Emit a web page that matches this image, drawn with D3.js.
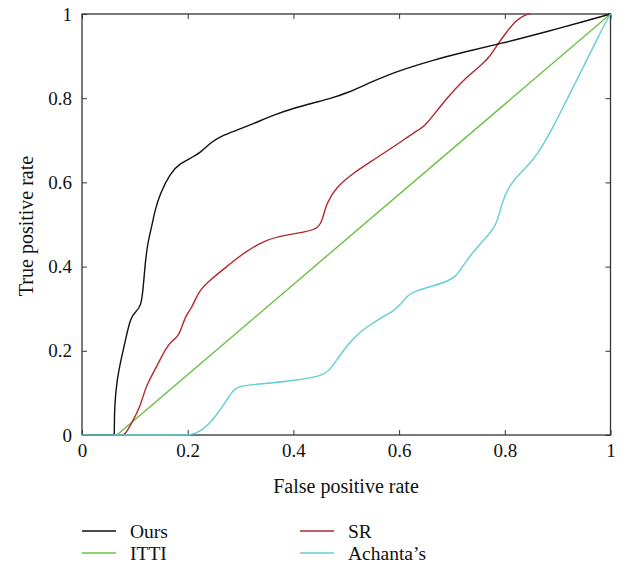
<!DOCTYPE html>
<html>
<head>
<meta charset="utf-8">
<script src="https://cdn.jsdelivr.net/npm/d3@7"></script>
<style>
  body { margin: 0; background: #fff; }
  text { font-family: "Liberation Serif", "DejaVu Serif", serif; fill: #111; }
</style>
</head>
<body>
<div class="chart"></div>
<script>
// ROC curves, [false positive rate, true positive rate]
var ours = [[0,0],[0.058,0],[0.061,0],[0.0612,0.012],[0.0615,0.068],[0.066,0.131],[0.075,0.186],[0.081,0.218],
  [0.092,0.281],[0.102,0.293],[0.112,0.306],[0.116,0.352],[0.119,0.40],[0.124,0.455],[0.132,0.495],[0.138,0.534],
  [0.148,0.574],[0.167,0.622],[0.185,0.645],[0.211,0.661],[0.226,0.673],[0.242,0.693],[0.261,0.709],
  [0.293,0.724],[0.324,0.739],[0.362,0.760],[0.40,0.776],[0.438,0.789],[0.472,0.80],[0.501,0.812],
  [0.545,0.837],[0.589,0.861],[0.665,0.891],[0.728,0.911],[0.791,0.930],[0.816,0.937],[0.879,0.958],
  [0.949,0.982],[1,1]];

var sr = [[0,0],[0.076,0],[0.081,0],[0.094,0.028],[0.110,0.067],[0.119,0.107],[0.126,0.127],[0.141,0.162],
  [0.160,0.21],[0.173,0.226],[0.182,0.235],[0.189,0.257],[0.197,0.285],[0.207,0.301],[0.214,0.321],
  [0.223,0.344],[0.242,0.368],[0.274,0.40],[0.305,0.432],[0.349,0.465],[0.387,0.475],[0.425,0.483],
  [0.447,0.491],[0.455,0.511],[0.463,0.552],[0.482,0.590],[0.513,0.622],[0.551,0.653],[0.595,0.689],
  [0.630,0.720],[0.649,0.734],[0.665,0.760],[0.690,0.80],[0.728,0.851],[0.756,0.879],[0.772,0.899],
  [0.785,0.926],[0.804,0.958],[0.822,0.986],[0.838,0.998],[0.848,1]];

var itti = [[0,0],[0.066,0],[1,1]];

var achanta = [[0,0],[0.196,0],[0.204,0],[0.223,0.008],[0.239,0.024],[0.255,0.048],[0.274,0.083],[0.286,0.107],
  [0.299,0.117],[0.337,0.121],[0.40,0.129],[0.454,0.140],[0.469,0.154],[0.488,0.19],[0.513,0.230],
  [0.539,0.257],[0.564,0.277],[0.589,0.294],[0.602,0.309],[0.617,0.333],[0.633,0.343],[0.658,0.352],
  [0.690,0.364],[0.708,0.376],[0.722,0.404],[0.740,0.435],[0.766,0.471],[0.785,0.499],[0.794,0.55],
  [0.807,0.59],[0.829,0.622],[0.848,0.645],[0.867,0.677],[0.892,0.732],[0.917,0.796],[0.949,0.875],
  [0.980,0.954],[0.995,0.99],[1,1]];

var seriesNames = ["Ours", "SR", "ITTI", "Achanta’s"];
var seriesColors = ["#111111", "#b3282d", "#6cbf45", "#64cdd6"];
var tickValues = [0, 0.2, 0.4, 0.6, 0.8, 1];

var svgWidth = 627;
var svgHeight = 568;

var margin = { top: 14, right: 16, bottom: 133, left: 82 };
var width = 528.5;
var height = 421;

var svg = d3.select(".chart")
  .append("svg")
  .attr("width", svgWidth)
  .attr("height", svgHeight);

var chartGroup = svg.append("g")
  .attr("transform", `translate(${margin.left}, ${margin.top})`);

var xScale = d3.scaleLinear().domain([0, 1]).range([0, width]);
var yScale = d3.scaleLinear().domain([0, 1]).range([height, 0]);

svg.append("defs").append("clipPath").attr("id", "plotclip")
  .append("rect").attr("x", -1).attr("y", -1).attr("width", width + 2).attr("height", height + 2);

// axes with inward ticks on all sides
var axisColor = "#333";
function styleAxis(g) {
  g.select(".domain").remove();
  g.selectAll(".tick line").attr("stroke", axisColor).attr("stroke-width", 1);
  g.selectAll(".tick text").style("font-size", "19px").attr("fill", "#111")
    .style("font-family", "'Liberation Serif', serif");
}

chartGroup.append("g")
  .attr("transform", `translate(0, ${height})`)
  .call(d3.axisBottom(xScale).tickValues(tickValues).tickFormat(d3.format("")).tickSizeInner(-5).tickPadding(9))
  .call(styleAxis);

chartGroup.append("g")
  .call(d3.axisLeft(yScale).tickValues(tickValues).tickFormat(d3.format("")).tickSizeInner(-5).tickPadding(10))
  .call(styleAxis);

chartGroup.append("g")
  .call(d3.axisTop(xScale).tickValues(tickValues).tickFormat("").tickSizeInner(-5))
  .call(styleAxis);

chartGroup.append("g")
  .attr("transform", `translate(${width}, 0)`)
  .call(d3.axisRight(yScale).tickValues(tickValues).tickFormat("").tickSizeInner(-5))
  .call(styleAxis);

chartGroup.append("rect")
  .attr("width", width)
  .attr("height", height)
  .attr("fill", "none")
  .attr("stroke", axisColor)
  .attr("stroke-width", 1.3);

// curves
var smoothLine = d3.line()
  .x(d => xScale(d[0]))
  .y(d => yScale(d[1]))
  .curve(d3.curveBasis);

var straightLine = d3.line()
  .x(d => xScale(d[0]))
  .y(d => yScale(d[1]));

var allSeries = [ours, sr, itti, achanta];
var drawOrder = [2, 1, 0, 3];
drawOrder.forEach(function (i) {
  chartGroup.append("path")
    .datum(allSeries[i])
    .attr("clip-path", "url(#plotclip)")
    .attr("fill", "none")
    .attr("stroke", seriesColors[i])
    .attr("stroke-width", 1.4)
    .attr("d", i === 2 ? straightLine : smoothLine);
});

// axis labels
chartGroup.append("text")
  .attr("x", 346 - margin.left)
  .attr("y", 493 - margin.top)
  .attr("text-anchor", "middle")
  .style("font-size", "20px")
  .text("False positive rate");

chartGroup.append("text")
  .attr("transform", "rotate(-90)")
  .attr("x", -(226 - margin.top))
  .attr("y", -49)
  .attr("text-anchor", "middle")
  .style("font-size", "20px")
  .text("True positive rate");

// legend
var legend = svg.append("g");
seriesNames.forEach(function (name, i) {
  var lx = i % 2 === 0 ? 82 : 300;
  var ly = i < 2 ? 531 : 553;
  legend.append("line")
    .attr("x1", lx).attr("x2", lx + 34)
    .attr("y1", ly).attr("y2", ly)
    .attr("stroke", seriesColors[i])
    .attr("stroke-width", 1.6);
  legend.append("text")
    .attr("x", lx + 48)
    .attr("y", ly + 7)
    .style("font-size", "19.5px")
    .text(name);
});
</script>
</body>
</html>
